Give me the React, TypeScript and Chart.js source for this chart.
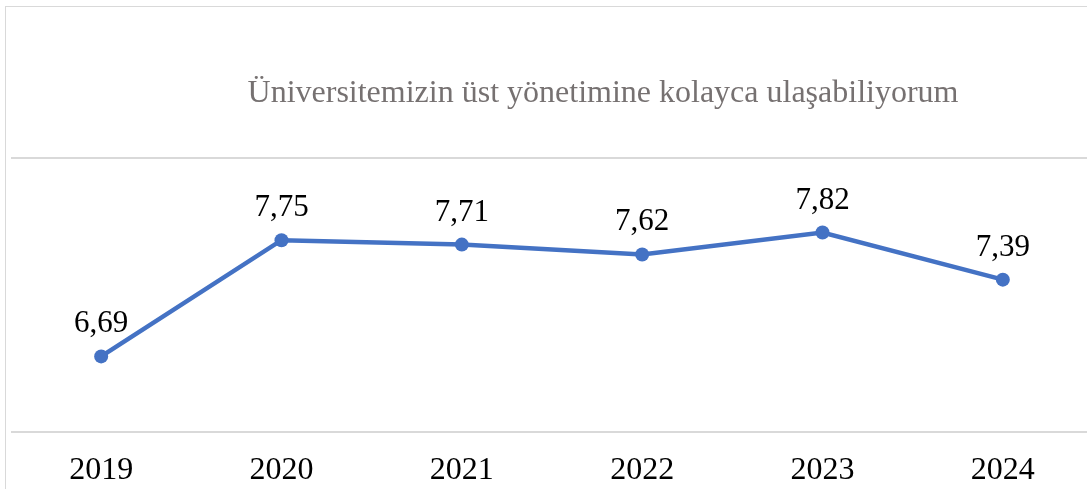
import React, { useEffect, useRef } from "react";
import { Chart, registerables } from "chart.js";

Chart.register(...registerables);

const titleText = "Üniversitemizin üst yönetimine kolayca ulaşabiliyorum";
const years = ["2019", "2020", "2021", "2022", "2023", "2024"];
const scores = [6.69, 7.75, 7.71, 7.62, 7.82, 7.39];
const yMin = 6;
const yMax = 8.5;
const yStep = 2.5;

const SERIF = "'Times New Roman', 'Liberation Serif', serif";

export default function App() {
  const ref = useRef<HTMLCanvasElement | null>(null);

  useEffect(() => {
    if (!ref.current) return;
    const titlePlugin = {
      id: "titleText",
      afterDraw(chart: any) {
        const ctx = chart.ctx;
        ctx.save();
        ctx.font = `32px ${SERIF}`;
        ctx.fillStyle = "#767171";
        ctx.textAlign = "center";
        ctx.textBaseline = "alphabetic";
        ctx.fillText(titleText, chart.width / 2, 102);
        ctx.restore();
      },
    };
    const labelPlugin = {
      id: "pointLabels",
      afterDatasetsDraw(chart: any) {
        const ctx = chart.ctx;
        const meta = chart.getDatasetMeta(0);
        ctx.save();
        ctx.font = `31px ${SERIF}`;
        ctx.fillStyle = "#000000";
        ctx.textAlign = "center";
        ctx.textBaseline = "alphabetic";
        meta.data.forEach((pt: any, i: number) => {
          const v = scores[i].toFixed(2).replace(".", ",");
          ctx.fillText(v, pt.x, pt.y - 24);
        });
        ctx.restore();
      },
    };
    const chart = new Chart(ref.current, {
      type: "line",
      data: {
        labels: years,
        datasets: [
          {
            data: scores,
            borderColor: "#4472C4",
            backgroundColor: "#4472C4",
            borderWidth: 4.5,
            pointRadius: 7,
            pointHoverRadius: 7,
            pointBorderWidth: 0,
            tension: 0,
          },
        ],
      },
      options: {
        animation: false,
        responsive: false,
        maintainAspectRatio: false,
        layout: { padding: { left: 11, right: 113, top: 158, bottom: 28 } },
        plugins: {
          legend: { display: false },
          title: { display: false },
          tooltip: { enabled: false },
        },
        scales: {
          x: {
            offset: true,
            grid: { display: false, drawTicks: false },
            border: { display: false },
            ticks: {
              color: "#000000",
              font: { family: SERIF, size: 32 },
              padding: 19,
              maxRotation: 0,
            },
            afterFit: (s: any) => {
              s.height = 60;
            },
          },
          y: {
            min: yMin,
            max: yMax,
            ticks: { display: false, stepSize: yStep },
            grid: { color: "#d9d9d9", lineWidth: 2, drawTicks: false },
            border: { display: false },
            afterFit: (s: any) => {
              s.width = 0;
            },
          },
        },
      },
      plugins: [titlePlugin, labelPlugin],
    });
    return () => chart.destroy();
  }, []);

  return (
    <div
      style={{
        position: "fixed",
        left: 0,
        top: 0,
        width: 1087,
        height: 489,
        overflow: "hidden",
        background: "#ffffff",
      }}
    >
      <div
        style={{
          position: "absolute",
          left: 5,
          top: 6,
          width: 1400,
          height: 700,
          border: "1.5px solid #d9d9d9",
          boxSizing: "border-box",
        }}
      />
      <canvas
        ref={ref}
        width={1206}
        height={520}
        style={{ position: "absolute", left: 0, top: 0, width: 1206, height: 520 }}
      />
    </div>
  );
}
